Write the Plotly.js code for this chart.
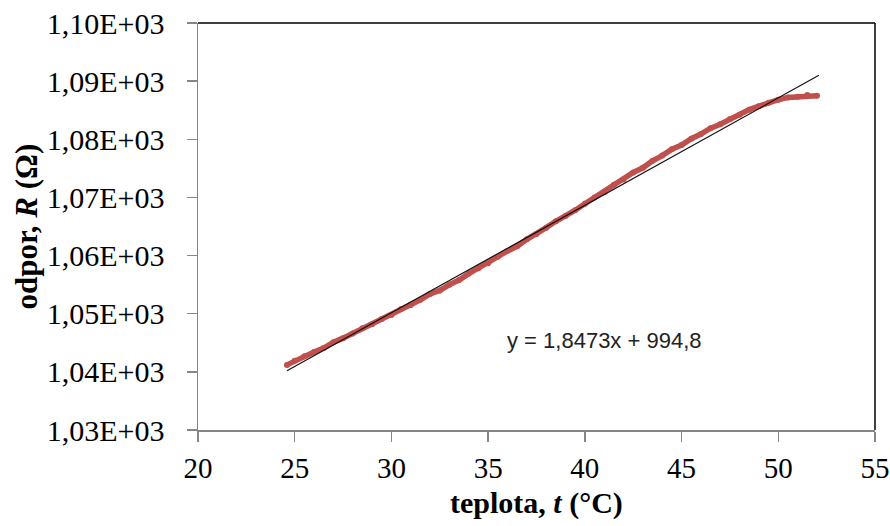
<!DOCTYPE html>
<html>
<head>
<meta charset="utf-8">
<script src="https://cdn.plot.ly/plotly-3.0.1.min.js"></script>
<style>html,body{margin:0;padding:0;background:#fff;}#chart{width:890px;height:526px;}</style>
</head>
<body>
<div id="chart"></div>
<script>
// temperature t (°C)
var temperature = [24.6, 25, 25.5, 26, 26.5, 27, 27.5, 28, 28.5, 29, 29.5, 30, 30.5, 31, 31.5, 32, 32.5, 33, 33.5, 34, 34.5, 35, 35.5, 36, 36.5, 37, 37.5, 38, 38.5, 39, 39.5, 40, 40.5, 41, 41.5, 42, 42.5, 43, 43.5, 44, 44.5, 45, 45.5, 46, 46.5, 47, 47.5, 48, 48.5, 49, 49.5, 50, 50.5, 51, 51.5, 52];
// measured resistance R (Ω)
var resistance = [1041.2, 1041.9, 1042.7, 1043.4, 1044.1, 1045.1, 1045.8, 1046.6, 1047.5, 1048.2, 1049.1, 1049.8, 1050.8, 1051.5, 1052.4, 1053.4, 1054.0, 1055.0, 1055.8, 1056.9, 1057.8, 1058.7, 1059.8, 1060.8, 1061.6, 1062.8, 1063.7, 1064.8, 1065.9, 1066.8, 1067.8, 1068.9, 1070.0, 1070.9, 1072.2, 1073.1, 1074.3, 1075.1, 1076.3, 1077.2, 1078.3, 1079.0, 1080.1, 1080.9, 1081.9, 1082.6, 1083.5, 1084.2, 1085.1, 1085.7, 1086.3, 1086.8, 1087.2, 1087.3, 1087.6, 1087.5];
// linear trendline endpoints
var trendX = [24.6, 52.1];
var trendY = [1040.2, 1091.0];
var trendLabel = "y = 1,8473x + 994,8";
// axis ticks
var xTicks = [20, 25, 30, 35, 40, 45, 50, 55];
var yTicks = [1030, 1040, 1050, 1060, 1070, 1080, 1090, 1100];
var yTickText = ["1,03E+03", "1,04E+03", "1,05E+03", "1,06E+03", "1,07E+03", "1,08E+03", "1,09E+03", "1,10E+03"];
var xTitle = "<b>teplota, <i>t</i> (°C)</b>";
var yTitle = "<b>odpor, <i>R</i> (Ω)</b>";

var serif = "Liberation Serif, Times New Roman, serif";
var axisGray = "#868686";

var traces = [
  {
    x: temperature, y: resistance, type: "scatter", mode: "lines+markers",
    line: {color: "#C0504D", width: 5.5},
    marker: {color: "#C0504D", size: 6},
    hoverinfo: "none", showlegend: false
  },
  {
    x: trendX, y: trendY, type: "scatter", mode: "lines",
    line: {color: "#111111", width: 1.2},
    hoverinfo: "none", showlegend: false
  }
];

var layout = {
  width: 890, height: 526,
  margin: {l: 198, r: 15, t: 23, b: 96},
  paper_bgcolor: "#fff", plot_bgcolor: "#fff",
  showlegend: false,
  font: {family: serif, color: "#000"},
  xaxis: {
    range: [20, 55], tickvals: xTicks, ticktext: xTicks.map(String),
    showgrid: false, zeroline: false,
    showline: true, linecolor: axisGray, linewidth: 1.5,
    ticks: "outside", ticklen: 10, tickcolor: axisGray, tickwidth: 1.5,
    ticklabelstandoff: 2,
    tickfont: {family: serif, size: 29, color: "#000"}
  },
  yaxis: {
    range: [1030, 1100], tickvals: yTicks, ticktext: yTickText,
    showgrid: false, zeroline: false,
    showline: true, linecolor: axisGray, linewidth: 1.5,
    ticks: "outside", ticklen: 10, tickcolor: axisGray, tickwidth: 1.5,
    ticklabelstandoff: 16,
    tickfont: {family: serif, size: 30, color: "#000"}
  },
  shapes: [
    {type: "line", xref: "paper", yref: "paper", x0: 0, x1: 1, y0: 1, y1: 1, line: {color: "#000", width: 1.5}},
    {type: "line", xref: "paper", yref: "paper", x0: 1, x1: 1, y0: 0, y1: 1, line: {color: "#000", width: 1.5}}
  ],
  annotations: [
    {xref: "paper", yref: "paper", x: 0.601, y: 0.221, text: trendLabel, showarrow: false,
     xanchor: "center", yanchor: "middle",
     font: {family: "Liberation Sans, Arial, sans-serif", size: 22, color: "#222"}},
    {xref: "paper", yref: "paper", x: 0.5, y: -0.18, text: xTitle, showarrow: false,
     xanchor: "center", yanchor: "middle",
     font: {family: serif, size: 30, color: "#000"}},
    {xref: "paper", yref: "paper", x: -0.254, y: 0.5, text: yTitle, showarrow: false, textangle: -90,
     xanchor: "center", yanchor: "middle",
     font: {family: serif, size: 31, color: "#000"}}
  ]
};

Plotly.newPlot("chart", traces, layout, {staticPlot: true, displayModeBar: false});
</script>
</body>
</html>
